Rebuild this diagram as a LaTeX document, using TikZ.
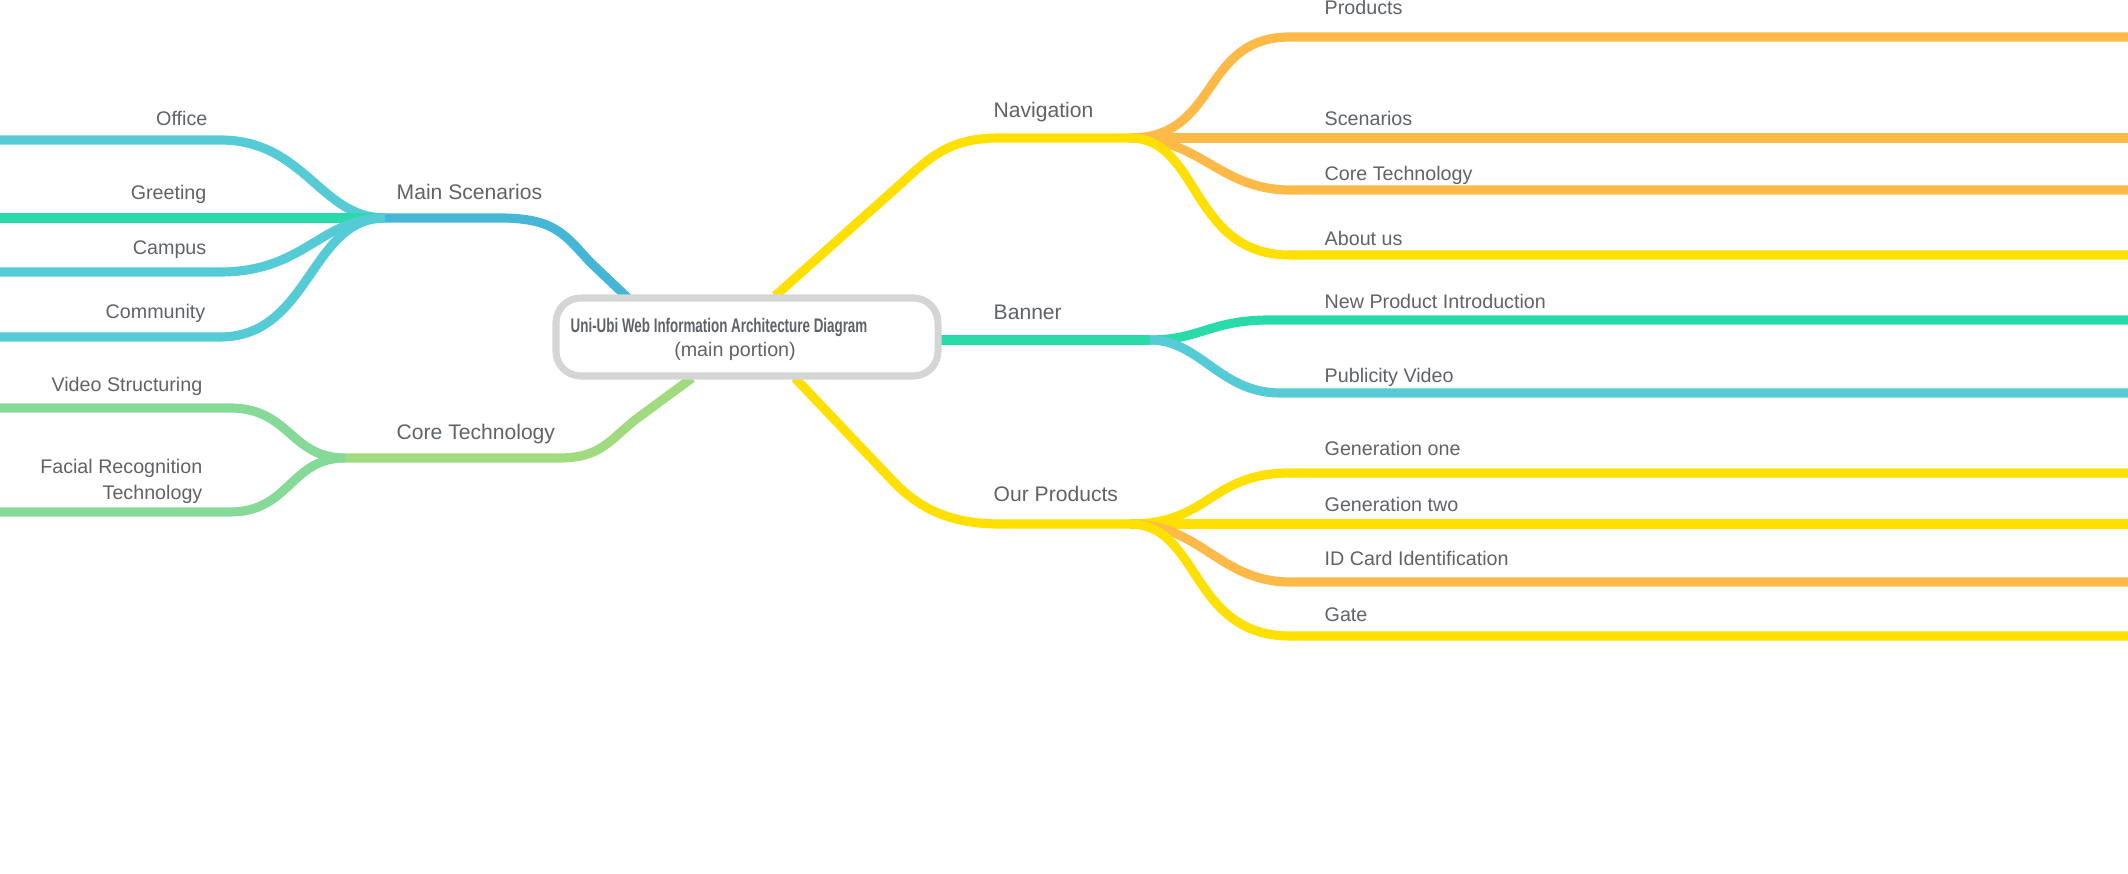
\documentclass[tikz,border=0pt]{standalone}
\usepackage{fontspec}
\setmainfont{Liberation Sans}
\begin{document}
\begin{tikzpicture}[x=0.01cm,y=-0.01cm,
  br/.style={line width=2.6pt,line cap=butt},
  lbl/.style={text=txt,font=\fontsize{5.6}{6.5}\selectfont,inner sep=0pt},
  mlbl/.style={text=txt,font=\fontsize{6}{7}\selectfont,inner sep=0pt}]
\definecolor{txt}{HTML}{5E6369}
\definecolor{yel}{HTML}{FFE000}
\definecolor{ora}{HTML}{FDBA48}
\definecolor{teal}{HTML}{2ADBAA}
\definecolor{cya}{HTML}{55CBD5}
\definecolor{blu}{HTML}{45B6D6}
\definecolor{lgr}{HTML}{A2DA80}
\definecolor{mgr}{HTML}{86DA98}
\definecolor{boxc}{HTML}{D4D6D6}
\useasboundingbox (0,0) rectangle (2128,874);
% hubs
\coordinate (ms) at (385,218);
\coordinate (ct) at (345,458);
\coordinate (nv) at (1130,138);
\coordinate (bn) at (1150,340);
\coordinate (op) at (1130,524);
% left leaves ends
\coordinate (l1) at (0,140); \coordinate (l2) at (0,218);
\coordinate (l3) at (0,272); \coordinate (l4) at (0,337);
\coordinate (l5) at (0,408); \coordinate (l6) at (0,512);
% right leaf ends
\coordinate (r1) at (2128,37); \coordinate (r2) at (2128,138);
\coordinate (r3) at (2128,190); \coordinate (r4) at (2128,255);
\coordinate (r5) at (2128,320); \coordinate (r6) at (2128,393);
\coordinate (r7) at (2128,473); \coordinate (r8) at (2128,524);
\coordinate (r9) at (2128,582); \coordinate (r10) at (2128,636);
% main branches
\draw[br,blu] (ms) -- (500,218) .. controls (555,218) and (565,235) .. (590,262) -- (630,300);
\draw[br,lgr] (ct) -- (560,458) .. controls (600,458) and (610,440) .. (635,420) -- (692,378);
\draw[br,yel] (775,296) -- (905,180) .. controls (935,152) and (955,138) .. (1000,138) -- (nv);
\draw[br,teal] (938,340) -- (bn);
\draw[br,yel] (795,378) -- (890,478) .. controls (915,505) and (945,524) .. (1000,524) -- (op);
% left leaves
\draw[br,cya] (ms) .. controls (320,218) and (305,140) .. (220,140) -- (l1);
\draw[br,teal] (ms) -- (l2);
\draw[br,cya] (ms) .. controls (320,218) and (305,272) .. (220,272) -- (l3);
\draw[br,cya] (ms) .. controls (310,218) and (310,337) .. (220,337) -- (l4);
\draw[br,mgr] (ct) .. controls (290,458) and (290,408) .. (230,408) -- (l5);
\draw[br,mgr] (ct) .. controls (290,458) and (290,512) .. (230,512) -- (l6);
% right leaves
\draw[br,ora] (nv) .. controls (1220,138) and (1200,37) .. (1290,37) -- (r1);
\draw[br,ora] (nv) -- (r2);
\draw[br,ora] (nv) .. controls (1200,138) and (1220,190) .. (1290,190) -- (r3);
\draw[br,yel] (nv) .. controls (1200,138) and (1190,255) .. (1290,255) -- (r4);
\draw[br,teal] (bn) .. controls (1200,340) and (1210,320) .. (1270,320) -- (r5);
\draw[br,cya] (bn) .. controls (1200,340) and (1220,393) .. (1280,393) -- (r6);
\draw[br,yel] (op) .. controls (1210,524) and (1210,473) .. (1290,473) -- (r7);
\draw[br,yel] (op) -- (r8);
\draw[br,ora] (op) .. controls (1200,524) and (1220,582) .. (1290,582) -- (r9);
\draw[br,yel] (op) .. controls (1200,524) and (1190,636) .. (1290,636) -- (r10);
% center box
\draw[boxc,line width=2pt,rounded corners=7pt,fill=white] (556,298) rectangle (938,376);
\node[inner sep=0pt,anchor=base west,text=txt] (t1) at (570,333) {\scalebox{0.68}[1]{\fontsize{5.6}{6}\selectfont\bfseries Uni-Ubi Web Information Architecture Diagram}};
\node[inner sep=0pt,anchor=base,lbl] (t2) at (735,357) {(main portion)};
% labels
\node[lbl,anchor=base east] (a1) at (208,126) {Office};
\node[lbl,anchor=base east] (a2) at (207,200) {Greeting};
\node[lbl,anchor=base east] (a3) at (207,255) {Campus};
\node[lbl,anchor=base east] (a4) at (206,319) {Community};
\node[mlbl,anchor=base west] (a5) at (396,200) {Main Scenarios};
\node[lbl,anchor=base east] (a6) at (203,392) {Video Structuring};
\node[lbl,anchor=base east] (a7) at (203,474) {Facial Recognition};
\node[lbl,anchor=base east] (a8) at (203,500) {Technology};
\node[mlbl,anchor=base west] (a9) at (396,440) {Core Technology};
\node[mlbl,anchor=base west] (b1) at (993,118) {Navigation};
\node[mlbl,anchor=base west] (b2) at (993,320) {Banner};
\node[mlbl,anchor=base west] (b3) at (993,502) {Our Products};
\node[lbl,anchor=base west] (c1) at (1324,15) {Products};
\node[lbl,anchor=base west] (c2) at (1324,126) {Scenarios};
\node[lbl,anchor=base west] (c3) at (1324,181) {Core Technology};
\node[lbl,anchor=base west] (c4) at (1324,246) {About us};
\node[lbl,anchor=base west] (c5) at (1324,309) {New Product Introduction};
\node[lbl,anchor=base west] (c6) at (1324,383) {Publicity Video};
\node[lbl,anchor=base west] (c7) at (1324,456) {Generation one};
\node[lbl,anchor=base west] (c8) at (1324,512) {Generation two};
\node[lbl,anchor=base west] (c9) at (1324,566) {ID Card Identification};
\node[lbl,anchor=base west] (c10) at (1324,622) {Gate};
\end{tikzpicture}
\end{document}
